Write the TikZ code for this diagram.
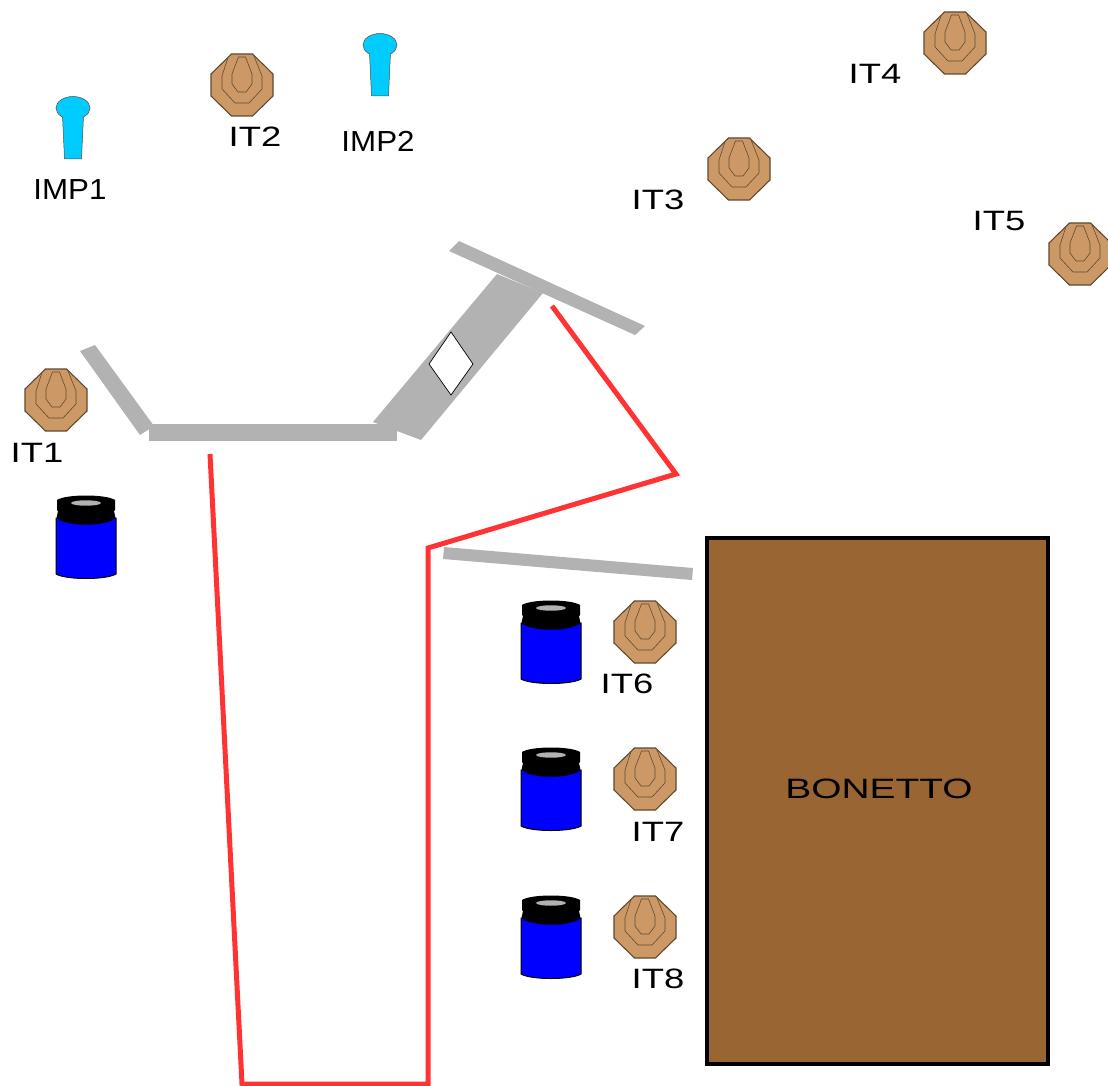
\documentclass[tikz,border=0pt]{standalone}
\usepackage{fontspec}
\setmainfont{Liberation Sans}
\definecolor{targetfill}{HTML}{CC9966}
\definecolor{targetline}{HTML}{5F4A32}
\definecolor{hoodfill}{HTML}{996633}
\definecolor{barfill}{HTML}{B2B2B2}
\definecolor{wirered}{HTML}{FF3333}
\definecolor{pinfill}{HTML}{00CCFF}
\definecolor{jarblue}{HTML}{0000FF}
\tikzset{
 bar/.style={fill=barfill,draw=none},
 wire/.style={draw=wirered,line width=5pt,line cap=butt,line join=miter},
 itlabel/.style={inner sep=0pt,font=\fontsize{28}{28}\selectfont,xscale=1.3},
 implabel/.style={inner sep=0pt,font=\fontsize{29}{29}\selectfont,xscale=1.08},
 target/.pic={
  \draw[fill=targetfill,draw=targetline,line width=1.1pt] (-10.5,-31) -- (10.5,-31) -- (31,-11) -- (31,11) -- (10.5,31) -- (-10.5,31) -- (-31,11) -- (-31,-11) -- cycle;
  \draw[targetline,line width=.6pt] (-14,-27.5) -- (-20,-9) -- (-20,4) -- (-7,18) -- (7,18) -- (20,4) -- (20,-9) -- (12,-29);
  \draw[targetline,line width=.6pt] (-3.5,-28) -- (3.5,-28) -- (10,-11) -- (10,-1) -- (4,7) -- (-4,7) -- (-10,-1) -- (-10,-11) -- cycle;
 },
 pin/.pic={
  \draw[fill=pinfill,draw=targetline,line width=.5pt] (-10.5,8) -- (-8.5,51) -- (8.5,51) -- (10.5,8) -- cycle;
  \draw[fill=pinfill,draw=targetline,line width=.5pt] (0,0) ellipse (17 and 11.5);
  \fill[pinfill] (-10,5) rectangle (10,12.5);
 },
 jar/.pic={
  % body
  \draw[fill=jarblue,draw=black,line width=1pt] (-30,22) -- (-30,78) .. controls (-20,84) and (20,84) .. (30,78) -- (30,22) -- cycle;
  % cap
  \fill[black] (-29,4) .. controls (-20,-2) and (20,-2) .. (29,4) -- (29,14) -- (28,15) -- (29.5,22) .. controls (20,31) and (-20,31) .. (-29.5,22) -- (-28,15) -- (-29,14) -- cycle;
  \fill[barfill] (0,7) ellipse (15 and 2.7);
 }
}
\begin{document}
\begin{tikzpicture}[x=1pt,y=-1pt]
 \useasboundingbox (0,0) rectangle (1108,1086);
 %
 \filldraw[fill=hoodfill,draw=black,line width=4.4pt] (707,538) rectangle (1048,1064);
 \node[inner sep=0pt,font=\fontsize{28}{28}\selectfont,xscale=1.39] (bonetto) at (879,789) {BONETTO};
 %
 \fill[bar] (80,351) -- (95,345) -- (154,426) -- (140,435) -- cycle;
 \fill[bar] (149,424) -- (397,424) -- (397,441) -- (149,441) -- cycle;
 \fill[bar] (497,274) -- (543,293) -- (421,440) -- (373,422) -- cycle;
 \fill[bar] (459,241) -- (645,326) -- (635,335) -- (449,251) -- cycle;
 \fill[bar] (444,547) -- (693,568) -- (692,580) -- (443,559) -- cycle;
 \draw[fill=white,draw=black,line width=.7pt] (451,332) -- (473,364) -- (451,395) -- (429,364) -- cycle;
 %
 \draw[wire] (552,306) -- (676,474) -- (428,548) -- (428,1084) -- (242,1084) -- (210,454);
 %
 \pic (it1) at (56,400) {target};
 \pic (it2) at (242,85) {target};
 \pic (it3) at (739,169) {target};
 \pic (it4) at (955,43) {target};
 \pic (it5) at (1080,254) {target};
 \pic (it6) at (645,632) {target};
 \pic (it7) at (645,779) {target};
 \pic (it8) at (645,927) {target};
 %
 \pic (imp1) at (73,108) {pin};
 \pic (imp2) at (380,45) {pin};
 %
 \pic (jar1) at (86,496) {jar};
 \pic (jar2) at (551,601) {jar};
 \pic (jar3) at (551,748) {jar};
 \pic (jar4) at (551,896) {jar};
 %
 \node[itlabel] (lit1) at (37,453) {IT1};
 \node[itlabel] (lit2) at (255,137) {IT2};
 \node[itlabel] (lit3) at (658,200) {IT3};
 \node[itlabel] (lit4) at (875,74) {IT4};
 \node[itlabel] (lit5) at (999,221) {IT5};
 \node[itlabel] (lit6) at (627,684) {IT6};
 \node[itlabel] (lit7) at (658,832) {IT7};
 \node[itlabel] (lit8) at (658,979) {IT8};
 \node[implabel] (limp1) at (70,190) {IMP1};
 \node[implabel] (limp2) at (378,141) {IMP2};
\end{tikzpicture}
\end{document}
